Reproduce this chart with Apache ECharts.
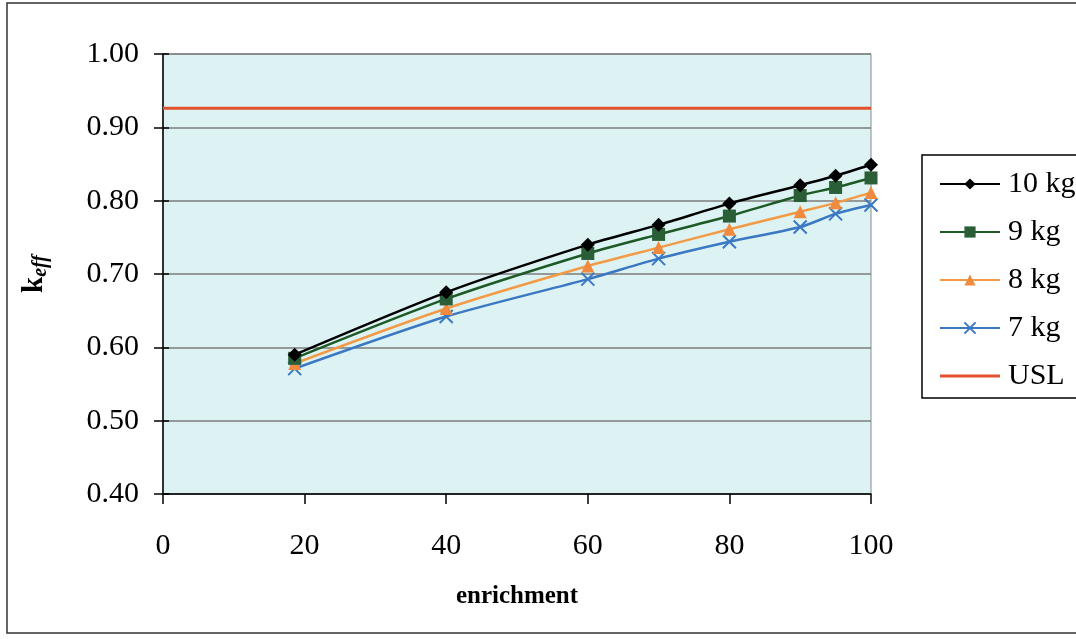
<!DOCTYPE html>
<html>
<head>
<meta charset="utf-8">
<script src="https://cdn.jsdelivr.net/npm/echarts@6/dist/echarts.min.js"></script>
<style>
  html, body { margin: 0; padding: 0; background: #ffffff; }
  #chart { width: 1076px; height: 639px; }
</style>
</head>
<body>
<div id="chart"></div>
<script>
// enrichment values at which keff was computed
const enrichment = [18.6, 40, 60, 70, 80, 90, 95, 100];

// keff for each fissile mass
const keff10kg = [0.590, 0.675, 0.740, 0.767, 0.796, 0.821, 0.834, 0.849];
const keff9kg  = [0.585, 0.666, 0.728, 0.754, 0.779, 0.807, 0.818, 0.831];
const keff8kg  = [0.578, 0.653, 0.711, 0.736, 0.761, 0.785, 0.797, 0.811];
const keff7kg  = [0.571, 0.642, 0.693, 0.721, 0.744, 0.764, 0.782, 0.794];

// upper subcritical limit
const uslValue = 0.926;
const uslRange = [0, 100];

const yTicks = ['0.40', '0.50', '0.60', '0.70', '0.80', '0.90', '1.00'];

const pair = (xs, ys) => xs.map((x, i) => [x, ys[i]]);

const serif = 'Liberation Serif';
const crossPath = 'path://M0,0 L10,10 M10,0 L0,10';
// plain line legend icon: tiny corner dots keep the 60x14 box, the band is the line
const lineIcon = 'path://M0,0 L0.01,0 L0.01,0.01 Z M0,5.5 L60,5.5 L60,8.5 L0,8.5 Z M59.99,14 L60,14 L60,13.99 Z';

const yLabel = (v) => yTicks[Math.round((v - 0.4) * 10)];

const chart = echarts.init(document.getElementById('chart'), null, { renderer: 'canvas' });

chart.setOption({
  animation: false,
  backgroundColor: '#ffffff',
  textStyle: { fontFamily: serif },
  grid: {
    left: 163, right: 205, top: 54, bottom: 145,
    show: true,
    backgroundColor: '#ddf3f3',
    borderColor: '#8a8a8a',
    borderWidth: 1
  },
  xAxis: {
    type: 'value',
    min: 0, max: 100, interval: 20,
    name: 'enrichment',
    nameLocation: 'middle',
    nameGap: 90,
    nameTextStyle: { fontFamily: serif, fontSize: 25, fontWeight: 'bold', color: '#000' },
    axisLine: { show: true, lineStyle: { color: '#000', width: 1.5 } },
    axisTick: { show: true, length: 10, lineStyle: { color: '#000', width: 1.5 } },
    axisLabel: { fontFamily: serif, fontSize: 30, color: '#000', margin: 37 },
    splitLine: { show: false }
  },
  yAxis: [
    {
      type: 'value',
      min: 0.4, max: 1.0, interval: 0.1,
      name: '{k|k}{s|eff}',
      nameLocation: 'middle',
      nameRotate: 90,
      nameGap: 112,
      nameTextStyle: {
        rich: {
          k: { fontFamily: serif, fontSize: 29, fontWeight: 'bold', color: '#000' },
          s: { fontFamily: serif, fontSize: 20, fontWeight: 'bold', fontStyle: 'italic', color: '#000', verticalAlign: 'bottom', padding: [12, 0, 0, 0] }
        }
      },
      axisLine: { show: true, lineStyle: { color: '#000', width: 1.5 } },
      axisTick: { show: true, length: 9, lineStyle: { color: '#000', width: 1.5 } },
      axisLabel: { fontFamily: serif, fontSize: 30, color: '#000', margin: 24, formatter: yLabel },
      splitLine: { show: true, lineStyle: { color: '#7b7b7b', width: 1.5 } }
    },
    {
      // inner half of the crossing tick marks
      type: 'value', position: 'left',
      min: 0.4, max: 1.0, interval: 0.1,
      axisLine: { show: false },
      axisTick: { show: true, inside: true, length: 6, lineStyle: { color: '#000', width: 1.5 } },
      axisLabel: { show: false },
      splitLine: { show: false }
    }
  ],
  legend: {
    orient: 'vertical',
    left: 934, top: 164,
    itemWidth: 60, itemHeight: 14,
    itemGap: 18,
    textStyle: { fontFamily: serif, fontSize: 30, color: '#000', lineHeight: 24, padding: [0, 0, 0, 3] },
    data: ['10 kg', '9 kg', '8 kg', '7 kg', { name: 'USL', icon: lineIcon }]
  },
  graphic: [
    // outer frame of the chart
    {
      type: 'rect', silent: true, z: 0,
      shape: { x: 7, y: 3, width: 1100, height: 630 },
      style: { fill: 'none', stroke: '#333', lineWidth: 1.5 }
    },
    // legend box
    {
      type: 'rect', silent: true, z: 0,
      shape: { x: 922, y: 155, width: 200, height: 243 },
      style: { fill: '#ffffff', stroke: '#000', lineWidth: 1.5 }
    }
  ],
  series: [
    {
      name: '10 kg', type: 'line', smooth: 0.25,
      data: pair(enrichment, keff10kg),
      symbol: 'diamond', symbolSize: 14,
      lineStyle: { color: '#000000', width: 2.5 },
      itemStyle: { color: '#000000' }, z: 5
    },
    {
      name: '9 kg', type: 'line', smooth: 0.25,
      data: pair(enrichment, keff9kg),
      symbol: 'rect', symbolSize: 13,
      lineStyle: { color: '#1d5a26', width: 2.5 },
      itemStyle: { color: '#2a5e37' }, z: 4
    },
    {
      name: '8 kg', type: 'line', smooth: 0.25,
      data: pair(enrichment, keff8kg),
      symbol: 'triangle', symbolSize: 13,
      lineStyle: { color: '#f29a45', width: 2.5 },
      itemStyle: { color: '#f08a3e' }, z: 3
    },
    {
      name: '7 kg', type: 'line', smooth: 0.25,
      data: pair(enrichment, keff7kg),
      symbol: crossPath, symbolSize: 13,
      lineStyle: { color: '#3b78c4', width: 2.5 },
      itemStyle: { color: '#3b78c4', borderColor: '#3b78c4', borderWidth: 2 }, z: 2
    },
    {
      name: 'USL', type: 'line',
      data: uslRange.map((x) => [x, uslValue]),
      symbol: 'none',
      lineStyle: { color: '#e2512c', width: 3 },
      itemStyle: { color: '#e2512c' }, z: 1
    }
  ]
});
</script>
</body>
</html>
